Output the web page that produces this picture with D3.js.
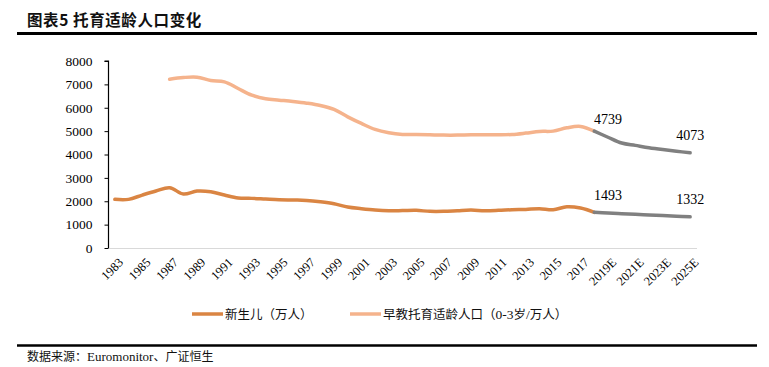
<!DOCTYPE html>
<html><head><meta charset="utf-8">
<script src="https://cdn.jsdelivr.net/npm/d3@7/dist/d3.min.js"></script>
<style>
html,body{margin:0;padding:0;background:#fff;}
svg{display:block;}
</style></head>
<body>
<svg id="chart" width="769" height="367"></svg>
<script>
// ---- data ----
const years = ["1983","1984","1985","1986","1987","1988","1989","1990","1991","1992","1993","1994","1995","1996","1997","1998","1999","2000","2001","2002","2003","2004","2005","2006","2007","2008","2009","2010","2011","2012","2013","2014","2015","2016","2017","2018","2019E","2020E","2021E","2022E","2023E","2024E","2025E"];
const tickLabels = ["1983","1985","1987","1989","1991","1993","1995","1997","1999","2001","2003","2005","2007","2009","2011","2013","2015","2017","2019E","2021E","2023E","2025E"];
const yTicks = [0,1000,2000,3000,4000,5000,6000,7000,8000];
// 新生儿 actual 1983-2018
const newbornYears = years.slice(0,36);
const newborn = [2081,2081,2265,2436,2578,2308,2436,2407,2265,2137,2123,2094,2066,2052,2037,1980,1895,1752,1681,1624,1595,1600,1610,1567,1567,1595,1624,1595,1610,1638,1652,1681,1638,1766,1709,1525];
// 新生儿 forecast 2018-2025E
const newbornFcYears = years.slice(35);
const newbornFc = [1525,1493,1466,1440,1413,1386,1359,1332];
// 早教托育适龄人口 actual 1987-2018
const infantYears = years.slice(4,36);
const infant = [7222,7293,7308,7165,7108,6823,6538,6382,6325,6268,6197,6097,5926,5612,5328,5071,4929,4860,4857,4843,4829,4829,4843,4843,4843,4857,4915,4986,5000,5142,5199,5000];
// forecast 2018-2025E
const infantFcYears = years.slice(35);
const infantFc = [5000,4739,4490,4390,4290,4210,4140,4073];
const dataLabels = [
  {year:"2019E", value:1493}, {year:"2025E", value:1332},
  {year:"2019E", value:4739}, {year:"2025E", value:4073}
];
// legend names split into [text, isLatin] runs
const legendNames = [
  [["新生儿（万人）", false]],
  [["早教托育适龄人口（", false], ["0-3", true], ["岁", false], ["/", true], ["万人）", false]]
];
const title = "图表5 托育适龄人口变化";
const source = [["数据来源：", false], ["Euromonitor", true], ["、广证恒生", false]];

// ---- drawing ----
const svg = d3.select("#chart");
const C_NEW = "#DA8543", C_INF = "#F5B38C", C_FC = "#808080";
const cjk = "'Noto Sans CJK SC', sans-serif";
const serif = "'Liberation Serif', 'Times New Roman', serif";

const x = d3.scalePoint().domain(years).range([108, 697]).padding(0.5);
const y = d3.scaleLinear().domain([0, 8000]).range([248, 61]);

function runs(sel, parts, size) {
  sel.selectAll("tspan").data(parts).join("tspan")
    .attr("font-family", d => d[1] ? serif : cjk)
    .attr("font-size", d => d[1] ? size + 1 : size)
    .text(d => d[0]);
}

// title & rules
svg.append("text").attr("x", 27).attr("y", 26).text(title)
  .attr("font-family", cjk).attr("font-weight", "bold").attr("font-size", 15.5)
  .attr("letter-spacing", 0.6).attr("fill", "#111");
svg.append("line").attr("x1", 17).attr("x2", 757).attr("y1", 33.5).attr("y2", 33.5)
  .attr("stroke", "#000").attr("stroke-width", 3);
svg.append("line").attr("x1", 17).attr("x2", 757).attr("y1", 345.5).attr("y2", 345.5)
  .attr("stroke", "#000").attr("stroke-width", 2.5);
svg.append("text").attr("x", 27).attr("y", 361).attr("fill", "#111")
  .call(s => runs(s, source, 12));

// x axis baseline
svg.append("line").attr("x1", 108).attr("x2", 697).attr("y1", 248.5).attr("y2", 248.5)
  .attr("stroke", "#D9D9D9").attr("stroke-width", 1);
// x tick labels
svg.append("g").selectAll("text").data(tickLabels).join("text")
  .attr("transform", d => `translate(${x(d) + 3},${257}) rotate(-45)`)
  .attr("text-anchor", "end").attr("dy", "0.7em")
  .attr("font-family", serif).attr("font-size", 12.5).attr("fill", "#000")
  .text(d => d);

// y axis
const yAxis = d3.axisLeft(y).tickValues(yTicks).tickSize(4).tickPadding(12).tickFormat(d3.format("d"));
const gy = svg.append("g").attr("transform", "translate(108.5,0)").call(yAxis);
gy.select(".domain").attr("stroke", "#000").attr("stroke-width", 1.2).attr("d", `M-4,${y(8000)}H0V${y(0)}`);
gy.selectAll(".tick line").attr("stroke", "#000");
gy.selectAll("text").attr("font-family", serif).attr("font-size", 13.5).attr("fill", "#000");

// lines
const line = d3.line().x(d => x(d[0])).y(d => y(d[1])).curve(d3.curveCatmullRom.alpha(0.5));
function draw(ys, vs, color) {
  svg.append("path").datum(ys.map((yy, i) => [yy, vs[i]]))
    .attr("d", line).attr("fill", "none").attr("stroke", color)
    .attr("stroke-width", 3.5).attr("stroke-linejoin", "round").attr("stroke-linecap", "round");
}
draw(infantYears, infant, C_INF);
draw(infantFcYears, infantFc, C_FC);
draw(newbornYears, newborn, C_NEW);
draw(newbornFcYears, newbornFc, C_FC);

// data labels
svg.append("g").selectAll("text").data(dataLabels).join("text")
  .attr("x", d => x(d.year)).attr("y", d => y(d.value) - 13)
  .attr("text-anchor", "middle").attr("font-family", serif).attr("font-size", 14).attr("fill", "#000")
  .text(d => d.value);

// legend
const legend = [
  {name: legendNames[0], color: C_NEW, x: 192},
  {name: legendNames[1], color: C_INF, x: 350}
];
const lg = svg.append("g").selectAll("g").data(legend).join("g");
lg.append("line").attr("x1", d => d.x).attr("x2", d => d.x + 31).attr("y1", 314).attr("y2", 314)
  .attr("stroke", d => d.color).attr("stroke-width", 3.5);
lg.append("text").attr("x", d => d.x + 33).attr("y", 318.5).attr("fill", "#111")
  .each(function(d) { runs(d3.select(this), d.name, 12.5); });
</script>
</body></html>
